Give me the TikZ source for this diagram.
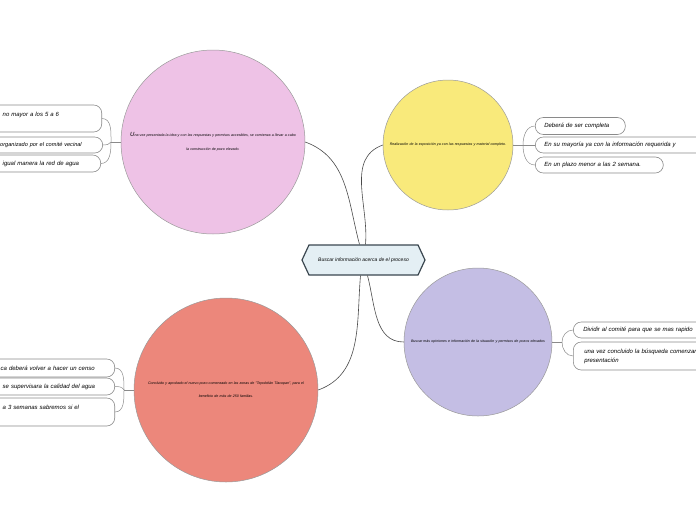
\documentclass[tikz,border=0pt]{standalone}
\usepackage{fontspec}
\setmainfont{Liberation Sans}
\usetikzlibrary{shapes.symbols}
\definecolor{pinkc}{HTML}{EEC2E6}
\definecolor{yellowc}{HTML}{F9EA7B}
\definecolor{purplec}{HTML}{C4BEE4}
\definecolor{redc}{HTML}{EC877B}
\definecolor{hexfill}{HTML}{E4EFF4}
\definecolor{hexdraw}{HTML}{3B4750}
\definecolor{circdraw}{HTML}{9A9A9A}
\definecolor{leafc}{HTML}{8A8A8A}
\definecolor{linkc}{HTML}{4A4A4A}
\begin{document}
\begin{tikzpicture}[x=1pt,y=1pt,
  topic/.style={circle, draw=circdraw, line width=0.5, inner sep=0pt, align=center,
    font=\fontsize{3.6}{14}\selectfont\itshape},
  leafbox/.style={draw=leafc, fill=white, line width=0.6, rounded corners=8,
    inner ysep=0pt, align=left, font=\fontsize{6}{9}\selectfont\itshape},
  link/.style={draw=linkc, line width=0.6},
  twig/.style={draw=leafc, line width=0.5}]
\useasboundingbox (0,0) rectangle (696,-520);
\begin{scope}
\clip (0,0) rectangle (696,-520);

% central
\node[shape=signal, signal to=west and east, signal pointer angle=130,
  draw=hexdraw, fill=hexfill, line width=1.2, minimum width=123, minimum height=30,
  inner sep=0pt, font=\fontsize{5}{6}\selectfont\itshape] (hex) at (363.5,-260)
  {Buscar información acerca de el proceso};

% topics
\node[topic, fill=pinkc, minimum size=184, text width=178] (pink) at (213,-142)
  {{\fontsize{6}{6}\selectfont U}na vez presentada la idea y con las respuestas y permisos accesibles, se comienza a llevar a cabo\\la construcción de pozo elevado.};
\node[topic, fill=yellowc, minimum size=130, text width=126] (yellow) at (448,-145)
  {Realización de la exposición ya con las respuestas y material completo.};
\node[topic, fill=purplec, minimum size=148, text width=144] (purple) at (478,-342)
  {Buscar más opiniones e información de la situación y permisos de pozos elevados};
\node[topic, fill=redc, minimum size=184, text width=178, font=\fontsize{3.6}{13}\selectfont\itshape] (red) at (226,-390)
  {Concluido y aprobado el nuevo pozo comenzado en las zonas de "Tepolotlán Tlacopan", para el\\beneficio de más de 250 familias.};

% main links
\draw[link] ([xshift=-4pt]hex.north) to[out=105,in=-20] (pink.east);
\draw[link] ([xshift=2pt]hex.north) to[out=85,in=200] (yellow.west);
\draw[link] ([xshift=4pt]hex.south) to[out=-75,in=180] (purple.west);
\draw[link] ([xshift=-3pt]hex.south) to[out=-95,in=20] (red.east);

% pink leaves
\node[leafbox, anchor=east, text width=132, minimum height=27, inner xsep=5] (pl1) at (102,-118.5)
  {\hspace*{38pt}no mayor a los 5 a 6\\\mbox{}};
\node[leafbox, anchor=east, text width=133, minimum height=16, inner xsep=5,
  font=\fontsize{5.6}{9}\selectfont\itshape] (pl2) at (103,-145)
  {\hspace*{35.5pt}organizado por el comité vecinal};
\node[leafbox, anchor=east, text width=131, minimum height=17, inner xsep=5] (pl3) at (101,-163.5)
  {\hspace*{38pt}igual manera la red de agua};
\coordinate (pj) at (111,-142);
\draw[twig] (pink.west) -- (pj);
\draw[twig] (pj) to[out=90,in=0] (pl1.east);
\draw[twig] (pj) to[out=-120,in=0] (pl2.east);
\draw[twig] (pj) to[out=-90,in=0] (pl3.east);

% red leaves
\node[leafbox, anchor=east, text width=145, minimum height=18, inner xsep=5] (rl1) at (115,-368)
  {\hspace*{36pt}ca deberá volver a hacer un censo};
\node[leafbox, anchor=east, text width=145, minimum height=17, inner xsep=5] (rl2) at (115,-386.5)
  {\hspace*{38pt}se supervisara la calidad del agua};
\node[leafbox, anchor=east, text width=145, minimum height=28, inner xsep=5] (rl3) at (115,-412)
  {\hspace*{38pt}a 3 semanas sabremos si el\\\mbox{}};
\coordinate (rj) at (124,-390);
\draw[twig] (red.west) -- (rj);
\draw[twig] (rj) to[out=90,in=0] (rl1.east);
\draw[twig] (rj) to[out=120,in=0] (rl2.east);
\draw[twig] (rj) to[out=-90,in=0] (rl3.east);

% yellow leaves
\node[leafbox, anchor=west, text width=72, minimum height=17, inner xsep=9] (yl1) at (535,-126)
  {Deberá de ser completa};
\node[leafbox, anchor=west, text width=247, minimum height=16, inner xsep=9] (yl2) at (535,-145)
  {En su mayoría ya con la información requerida y};
\node[leafbox, anchor=west, text width=110, minimum height=16, inner xsep=9] (yl3) at (535,-165)
  {En un plazo menor a las 2 semana.};
\coordinate (yj) at (523,-145);
\draw[twig] (yellow.east) -- (yj);
\draw[twig] (yj) to[out=90,in=180] (yl1.west);
\draw[twig] (yj) -- (yl2.west);
\draw[twig] (yj) to[out=-90,in=180] (yl3.west);

% purple leaves
\node[leafbox, anchor=west, text width=205, minimum height=16, inner xsep=10] (ul1) at (573,-330)
  {Dividir al comité para que se mas rapido};
\node[leafbox, anchor=west, text width=205, minimum height=28, inner xsep=11] (ul2) at (573,-356)
  {una vez concluido la búsqueda comenzar\\presentación};
\coordinate (uj) at (562,-342);
\draw[twig] (purple.east) -- (uj);
\draw[twig] (uj) to[out=90,in=180] (ul1.west);
\draw[twig] (uj) to[out=-90,in=180] (ul2.west);
\end{scope}
\end{tikzpicture}
\end{document}
